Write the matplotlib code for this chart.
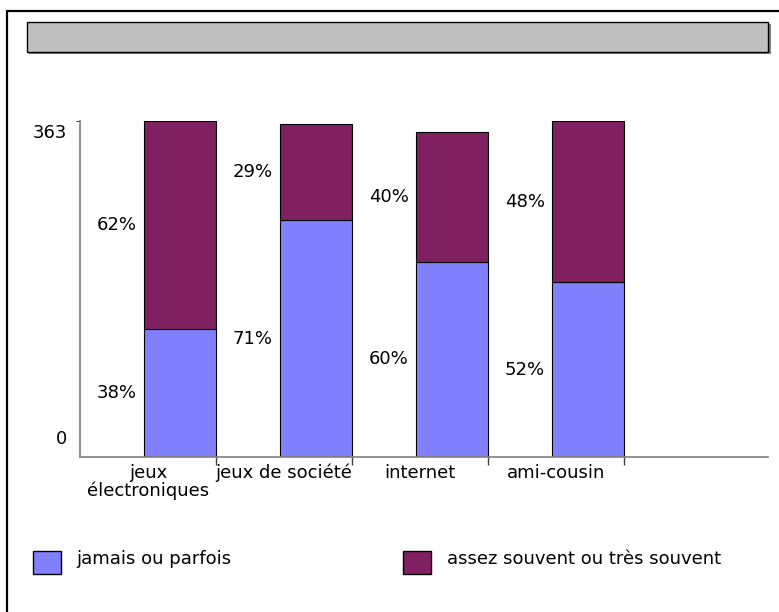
import matplotlib
matplotlib.use("Agg")
import matplotlib.pyplot as plt
import matplotlib.transforms as mtransforms
from matplotlib.patches import Rectangle
import numpy as np

# survey data: counts per activity, split by answer group
categories = ["jeux\nélectroniques", "jeux de société", "internet", "ami-cousin"]
jamais_parfois = [138, 256, 211, 189]
assez_tres_souvent = [225, 104, 140, 174]
series_names = ["jamais ou parfois", "assez souvent ou très souvent"]
y_max = 363

COL_LOW = "#8080FF"
COL_HIGH = "#802060"
W, H = 779, 612
FONT = 13

plt.rcParams["font.family"] = ["DejaVu Sans"]


def fx(px):
    return px / W


def fy(py):
    # pixel rows from the top -> figure fraction from the bottom
    return 1 - py / H


fig = plt.figure(figsize=(W / 100, H / 100), dpi=100)

# outer frame (only left and top edges fall inside the canvas)
fig.patches.append(Rectangle((fx(6.5), fy(640)), fx(800), fy(11) - fy(640),
                             transform=fig.transFigure, fill=False,
                             edgecolor="black", linewidth=1.6))

# empty grey title box with a small drop shadow
fig.patches.append(Rectangle((fx(29), fy(54)), fx(742), fy(22) - fy(52),
                             transform=fig.transFigure, facecolor="#808080",
                             edgecolor="none"))
fig.patches.append(Rectangle((fx(27), fy(52)), fx(741), fy(22) - fy(52),
                             transform=fig.transFigure, facecolor="#C0C0C0",
                             edgecolor="black", linewidth=1.0))

ax = fig.add_axes([fx(80), fy(457), fx(688), fy(121) - fy(457)])

x = np.arange(len(categories))
low = np.array(jamais_parfois)
high = np.array(assez_tres_souvent)
total = low + high
bar_pos = x + 0.735
ax.bar(bar_pos, low, width=0.53, color=COL_LOW, edgecolor="black", linewidth=0.8)
ax.bar(bar_pos, high, width=0.53, bottom=low, color=COL_HIGH,
       edgecolor="black", linewidth=0.8)

# percentage labels to the left of each bar segment
for i in range(len(categories)):
    p_low = round(100 * low[i] / total[i])
    p_high = round(100 * high[i] / total[i])
    ax.text(x[i] + 0.27, low[i] / 2, f"{p_low}%", ha="center", va="center",
            fontsize=FONT)
    ax.text(x[i] + 0.27, low[i] + high[i] / 2, f"{p_high}%", ha="center",
            va="center", fontsize=FONT)

ax.set_xlim(0, 5.06)
ax.set_ylim(0, y_max)

for side in ["top", "right"]:
    ax.spines[side].set_visible(False)
for side in ["left", "bottom"]:
    ax.spines[side].set_color("#808080")
    ax.spines[side].set_linewidth(1.2)

# category names centred in their slots, tick marks on slot boundaries
ax.set_xticks(x + 0.5)
ax.set_xticklabels(categories, fontsize=FONT)
ax.tick_params(axis="x", which="major", length=0, pad=5)
for lab in ax.get_xticklabels():
    lab.set_linespacing(1.0)
ax.set_xticks([1, 2, 3, 4], minor=True)
ax.tick_params(axis="x", which="minor", length=6, color="#404040", width=1)

ax.set_yticks([0, y_max])
ax.set_yticklabels(["0", str(y_max)], fontsize=FONT)
ax.tick_params(axis="y", length=3, color="#404040", pad=6)
ax.yaxis.get_major_ticks()[0].tick1line.set_visible(False)
ylabs = ax.get_yticklabels()
ylabs[0].set_transform(ylabs[0].get_transform()
                       + mtransforms.ScaledTranslation(0, 0.20, fig.dpi_scale_trans))
ylabs[1].set_transform(ylabs[1].get_transform()
                       + mtransforms.ScaledTranslation(0, -0.10, fig.dpi_scale_trans))

# legend along the bottom
for (x0, tx), col, name in zip([(33, 76), (403, 447)], [COL_LOW, COL_HIGH], series_names):
    fig.patches.append(Rectangle((fx(x0), fy(574)), fx(28), fy(551) - fy(574),
                                 transform=fig.transFigure, facecolor=col,
                                 edgecolor="black", linewidth=1.0))
    fig.text(fx(tx), fy(559), name, ha="left", va="center", fontsize=FONT)

fig.savefig("out.png", dpi=100)
